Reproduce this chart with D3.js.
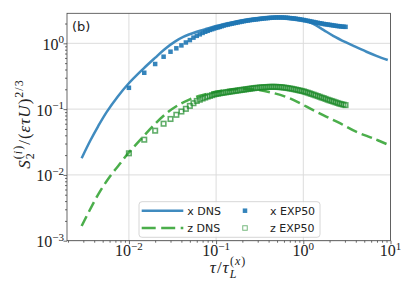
<!DOCTYPE html>
<html>
<head>
<meta charset="utf-8">
<script src="https://cdn.jsdelivr.net/npm/d3@7"></script>
<style>
body{margin:0;background:#fff;}
</style>
</head>
<body>
<div id="chart_area"></div>
<script>

//DNS curves
var dnsXTau = [0.00287,0.0036,0.00445,0.00555,0.0075,0.0098,0.0146,0.0199,0.0259,0.0337,0.042,0.06,0.08,0.1,0.15,0.2,0.3,0.45,0.6,0.8,1.0,1.3,1.7,2.2,3.1,4.0,5.3,7.0,9.3];
var dnsXVal = [0.0179,0.033,0.0553,0.090,0.157,0.241,0.41,0.60,0.82,1.06,1.25,1.50,1.68,1.83,2.06,2.22,2.40,2.50,2.52,2.44,2.28,1.98,1.60,1.30,1.03,0.88,0.745,0.64,0.557];

var dnsZTau = [0.00287,0.0035,0.0045,0.006,0.0078,0.0098,0.014,0.02,0.028,0.038,0.05,0.065,0.08,0.1,0.14,0.2,0.3,0.45,0.7,1.09,1.69,2.63,4.08,6.3,9.0];
var dnsZVal = [0.00167,0.0028,0.0052,0.0093,0.0145,0.0213,0.036,0.06,0.09,0.118,0.141,0.16,0.172,0.183,0.196,0.203,0.196,0.176,0.146,0.109,0.081,0.061,0.045,0.036,0.0295];

//EXP50 markers
var expTau = [0.01,0.015,0.02,0.025,0.03,0.035,0.04,0.045,0.05,0.055,0.06,0.065,0.07,0.075,0.08,0.085,0.09,0.095,0.1,
	0.105,0.11,0.116,0.122,0.129,0.136,0.143,0.151,0.159,0.168,0.177,0.187,0.197,0.208,0.219,0.231,0.243,0.256,0.27,0.285,
	0.3,0.317,0.334,0.352,0.371,0.391,0.412,0.434,0.458,0.483,0.509,0.536,0.565,0.596,0.628,0.662,0.698,0.736,0.776,0.818,
	0.862,0.908,0.957,1.01,1.06,1.12,1.18,1.24,1.31,1.38,1.46,1.54,1.62,1.71,1.8,1.9,2.0,2.11,2.22,2.34,2.47,2.6,2.74,2.89,3.05];
var expX = [0.211,0.357,0.485,0.626,0.746,0.84,0.93,1.03,1.12,1.22,1.30,1.37,1.44,1.50,1.55,1.60,1.64,1.68,1.72,
	1.75,1.78,1.82,1.86,1.90,1.93,1.96,1.99,2.02,2.05,2.08,2.11,2.14,2.17,2.20,2.22,2.25,2.27,2.29,2.31,
	2.33,2.35,2.37,2.39,2.41,2.42,2.44,2.45,2.46,2.47,2.47,2.47,2.47,2.46,2.45,2.44,2.42,2.40,2.38,2.36,
	2.34,2.31,2.29,2.26,2.23,2.20,2.17,2.14,2.11,2.08,2.05,2.02,2.00,1.97,1.95,1.93,1.91,1.89,1.87,1.85,1.83,1.82,1.80,1.79,1.78];
var expZ = [0.0213,0.0343,0.047,0.060,0.0708,0.082,0.092,0.101,0.112,0.123,0.133,0.139,0.145,0.150,0.155,0.159,0.163,0.167,0.170,
	0.172,0.174,0.176,0.178,0.180,0.182,0.184,0.186,0.188,0.190,0.192,0.194,0.196,0.198,0.200,0.202,0.204,0.206,0.208,0.210,
	0.211,0.213,0.214,0.215,0.216,0.217,0.218,0.218,0.218,0.218,0.217,0.216,0.215,0.213,0.211,0.209,0.206,0.204,0.201,0.198,
	0.195,0.192,0.189,0.186,0.182,0.178,0.174,0.170,0.166,0.162,0.158,0.154,0.150,0.147,0.143,0.139,0.136,0.133,0.130,0.127,0.124,0.121,0.119,0.117,0.115];

//ticks and legend
var xTickExps = [-2,-1,0,1];
var yTickExps = [-3,-2,-1,0];
var legendLabels = ["x DNS","z DNS","x EXP50","z EXP50"];

var cBlue = "#1f77b4";
var cGreen = "#2ca02c";
var cGreenDark = "#1c8a2a";

//get the area
var sMargin = {top : 13.3, right : 24.5, bottom : 53.3, left : 67};
var sFrameWidth = 415;
var sFrameHeight = 294;
var sCanvasWidth = sFrameWidth - sMargin.left - sMargin.right;
var sCanvasHeight = sFrameHeight - sMargin.top - sMargin.bottom;

var sFrame = d3.select("#chart_area").append("svg")
	.attr("width",sFrameWidth)
	.attr("height",sFrameHeight);
var sCanvas = sFrame.append("g")
	.attr("transform","translate("+sMargin.left+","+sMargin.top+")");

var sX = d3.scaleLog().domain([0.00195,10]).range([0,sCanvasWidth]);
var sY = d3.scaleLog().domain([0.001,2.86]).range([sCanvasHeight,0]);

var xMajor = xTickExps.map(function(e){return Math.pow(10,e);});
var yMajor = yTickExps.map(function(e){return Math.pow(10,e);});
var xMinor = [], yMinor = [];
[-3,-2,-1,0].forEach(function(e){
	for(var k=2;k<10;k++){
		var v = k*Math.pow(10,e);
		if(v>0.00195 && v<10) xMinor.push(v);
		if(v>0.001 && v<2.86) yMinor.push(v);
	}
});

//grid
sCanvas.append("g").selectAll("line").data(xMajor).enter().append("line")
	.attr("x1",function(d){return sX(d);}).attr("x2",function(d){return sX(d);})
	.attr("y1",0).attr("y2",sCanvasHeight)
	.attr("stroke","#dcdcdc").attr("stroke-width",1);
sCanvas.append("g").selectAll("line").data(yMajor).enter().append("line")
	.attr("y1",function(d){return sY(d);}).attr("y2",function(d){return sY(d);})
	.attr("x1",0).attr("x2",sCanvasWidth)
	.attr("stroke","#dcdcdc").attr("stroke-width",1);

//axes ticks
function styleAxis(g){
	g.select(".domain").remove();
	g.selectAll("line").attr("stroke","#444").attr("stroke-width",0.8);
}
sCanvas.append("g").attr("transform","translate(0,"+sCanvasHeight+")")
	.call(d3.axisBottom(sX).tickValues(xMajor).tickSize(3.5).tickFormat("")).call(styleAxis);
sCanvas.append("g").attr("transform","translate(0,"+sCanvasHeight+")")
	.call(d3.axisBottom(sX).tickValues(xMinor).tickSize(2).tickFormat("")).call(styleAxis);
sCanvas.append("g")
	.call(d3.axisLeft(sY).tickValues(yMajor).tickSize(3.5).tickFormat("")).call(styleAxis);
sCanvas.append("g")
	.call(d3.axisLeft(sY).tickValues(yMinor).tickSize(2).tickFormat("")).call(styleAxis);

//tick labels
function powLabel(sel, e){
	sel.append("tspan").text("10");
	sel.append("tspan").attr("font-size",11).attr("dy",-6.5).text(e<0 ? "\u2212"+(-e) : e);
}
sCanvas.append("g").selectAll("text").data(xTickExps).enter().append("text")
	.attr("x",function(d){return sX(Math.pow(10,d));})
	.attr("y",sCanvasHeight+15.5)
	.attr("text-anchor","middle")
	.attr("font-family","Liberation Serif")
	.attr("font-size",16)
	.attr("fill","#222")
	.each(function(d){powLabel(d3.select(this),d);});
sCanvas.append("g").selectAll("text").data(yTickExps).enter().append("text")
	.attr("x",-3)
	.attr("y",function(d){return sY(Math.pow(10,d))+6.5;})
	.attr("text-anchor","end")
	.attr("font-family","Liberation Serif")
	.attr("font-size",16)
	.attr("fill","#222")
	.each(function(d){powLabel(d3.select(this),d);});

//DNS lines
var sLine = d3.line()
	.x(function(d){return sX(d[0]);})
	.y(function(d){return sY(d[1]);})
	.curve(d3.curveCatmullRom.alpha(0.5));

sCanvas.append("path")
	.datum(d3.zip(dnsXTau,dnsXVal))
	.attr("d",sLine)
	.attr("fill","none")
	.attr("stroke",cBlue).attr("stroke-opacity",0.85)
	.attr("stroke-width",2.5);
sCanvas.append("path")
	.datum(d3.zip(dnsZTau,dnsZVal))
	.attr("d",sLine)
	.attr("fill","none")
	.attr("stroke",cGreen).attr("stroke-opacity",0.85)
	.attr("stroke-width",2.5)
	.attr("stroke-dasharray","11,5");

//EXP markers
var sSq = 4.5;
sCanvas.append("g").selectAll("rect").data(d3.zip(expTau,expX)).enter().append("rect")
	.attr("x",function(d){return sX(d[0])-sSq/2;})
	.attr("y",function(d){return sY(d[1])-sSq/2;})
	.attr("width",sSq).attr("height",sSq)
	.attr("fill",cBlue).attr("fill-opacity",0.9);
sCanvas.append("g").selectAll("rect").data(d3.zip(expTau,expZ)).enter().append("rect")
	.attr("x",function(d){return sX(d[0])-sSq/2;})
	.attr("y",function(d){return sY(d[1])-sSq/2;})
	.attr("width",sSq).attr("height",sSq)
	.attr("fill","none")
	.attr("stroke",cGreenDark).attr("stroke-opacity",0.7).attr("stroke-width",1.6);

//frame
sCanvas.append("rect")
	.attr("width",sCanvasWidth).attr("height",sCanvasHeight)
	.attr("fill","none").attr("stroke","#444").attr("stroke-width",0.8);

//panel tag
sCanvas.append("text")
	.attr("x",5).attr("y",18)
	.attr("font-family","DejaVu Sans").attr("font-size",13)
	.attr("fill","#222")
	.text("(b)");

//legend
var sLegend = sFrame.append("g");
sLegend.append("rect")
	.attr("x",139).attr("y",201.7).attr("width",181).attr("height",35.6).attr("rx",3)
	.attr("fill","#fff").attr("fill-opacity",0.8)
	.attr("stroke","#cccccc").attr("stroke-width",0.8);
var rowY = [210.7,228];
sLegend.append("line").attr("x1",141.7).attr("x2",183.3).attr("y1",rowY[0]).attr("y2",rowY[0])
	.attr("stroke",cBlue).attr("stroke-opacity",0.85).attr("stroke-width",2.5);
sLegend.append("line").attr("x1",141.7).attr("x2",183.3).attr("y1",rowY[1]).attr("y2",rowY[1])
	.attr("stroke",cGreen).attr("stroke-opacity",0.85).attr("stroke-width",2.5)
	.attr("stroke-dasharray","14,5.5");
sLegend.append("rect").attr("x",245-sSq/2).attr("y",rowY[0]-sSq/2).attr("width",sSq).attr("height",sSq)
	.attr("fill",cBlue).attr("fill-opacity",0.9);
sLegend.append("rect").attr("x",245-sSq/2).attr("y",rowY[1]-sSq/2).attr("width",sSq).attr("height",sSq)
	.attr("fill","none").attr("stroke",cGreenDark).attr("stroke-opacity",0.6).attr("stroke-width",1);
var legX = [187.3,187.3,270,270];
var legY = [rowY[0],rowY[1],rowY[0],rowY[1]];
sLegend.selectAll("text.leg").data(legendLabels).enter().append("text")
	.attr("class","leg")
	.attr("x",function(d,i){return legX[i];})
	.attr("y",function(d,i){return legY[i]+4;})
	.attr("font-family","DejaVu Sans").attr("font-size",11)
	.attr("fill","#222")
	.text(function(d){return d;});

//x label
var sXLabel = sFrame.append("text")
	.attr("x",228).attr("y",272.7)
	.attr("text-anchor","middle")
	.attr("font-family","Liberation Serif").attr("font-size",17)
	.attr("letter-spacing",1)
	.attr("fill","#222");
sXLabel.append("tspan").attr("font-style","italic").text("\u03c4");
sXLabel.append("tspan").text("/");
sXLabel.append("tspan").attr("font-style","italic").text("\u03c4");
sXLabel.append("tspan").attr("font-style","italic").attr("font-size",12).attr("dy",5).text("L");
sXLabel.append("tspan").attr("font-size",12).attr("dx",-7.5).attr("dy",-13).text("(");
sXLabel.append("tspan").attr("font-size",12).attr("font-style","italic").text("x");
sXLabel.append("tspan").attr("font-size",12).text(")");

//y label
var sYLabel = sFrame.append("text")
	.attr("transform","translate(30,124) rotate(-90)")
	.attr("text-anchor","middle")
	.attr("font-family","Liberation Serif").attr("font-size",17)
	.attr("letter-spacing",1)
	.attr("fill","#222");
sYLabel.append("tspan").attr("font-style","italic").text("S");
sYLabel.append("tspan").attr("font-size",12).attr("dy",4).text("2");
sYLabel.append("tspan").attr("font-size",12).attr("dx",-7).attr("dy",-12).text("(");
sYLabel.append("tspan").attr("font-size",12).attr("font-style","italic").text("i");
sYLabel.append("tspan").attr("font-size",12).text(")");
sYLabel.append("tspan").attr("dy",8).text("/(");
sYLabel.append("tspan").attr("font-style","italic").text("\u03b5\u03c4U");
sYLabel.append("tspan").text(")");
sYLabel.append("tspan").attr("font-size",12).attr("dy",-7).text("2/3");

</script>
</body>
</html>
